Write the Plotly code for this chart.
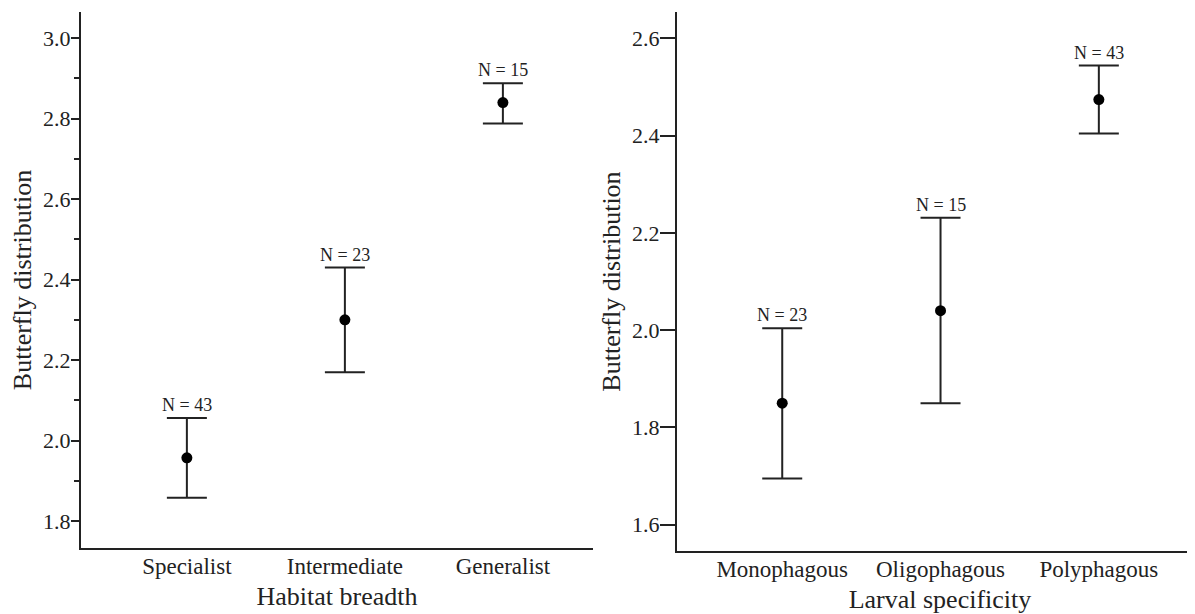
import plotly.graph_objects as go

# Left panel: habitat breadth
habitat_cats = ["Specialist", "Intermediate", "Generalist"]
habitat_mean = [1.957, 2.30, 2.84]
habitat_upper = [2.056, 2.43, 2.888]
habitat_lower = [1.858, 2.17, 2.788]
habitat_n = [43, 23, 15]

# Right panel: larval specificity
larval_cats = ["Monophagous", "Oligophagous", "Polyphagous"]
larval_mean = [1.850, 2.040, 2.474]
larval_upper = [2.004, 2.231, 2.544]
larval_lower = [1.695, 1.850, 2.404]
larval_n = [23, 15, 43]

left_ticks = [1.8, 2.0, 2.2, 2.4, 2.6, 2.8, 3.0]
right_ticks = [1.6, 1.8, 2.0, 2.2, 2.4, 2.6]

FONT = "Liberation Serif"
LINE = "#222222"

fig = go.Figure()


def add_panel(cats, mean, upper, lower, n, xa, ya):
    xs = list(range(len(cats)))
    plus = [u - m for u, m in zip(upper, mean)]
    minus = [m - l for m, l in zip(mean, lower)]
    fig.add_trace(go.Scatter(
        x=xs, y=mean, mode="markers", xaxis=xa, yaxis=ya,
        marker=dict(color="black", size=11),
        error_y=dict(type="data", array=plus, arrayminus=minus, symmetric=False,
                     color=LINE, thickness=2, width=20),
        showlegend=False, hoverinfo="skip"))
    for x, u, c in zip(xs, upper, n):
        fig.add_annotation(x=x, y=u, xref=xa, yref=ya, text=f"N = {c}",
                           showarrow=False, yanchor="bottom", yshift=1,
                           font=dict(family=FONT, size=18, color=LINE))


add_panel(habitat_cats, habitat_mean, habitat_upper, habitat_lower, habitat_n, "x", "y")
add_panel(larval_cats, larval_mean, larval_upper, larval_lower, larval_n, "x2", "y2")

axis_common = dict(showgrid=False, zeroline=False, showline=True, linecolor=LINE,
                   linewidth=2, automargin=False, ticklabelstandoff=-4)
TICKFONT = dict(family=FONT, size=22, color=LINE)
XTICKFONT = dict(family=FONT, size=23, color=LINE)
TITLEFONT = dict(family=FONT, size=26, color=LINE)

fig.update_layout(
    width=1195, height=614,
    margin=dict(l=0, r=0, t=0, b=0, autoexpand=False),
    font=dict(family=FONT, size=22, color=LINE),
    plot_bgcolor="white", paper_bgcolor="white",
    xaxis=dict(domain=[0.0611, 0.4895], range=[-0.67, 2.57],
               tickvals=[0, 1, 2], ticktext=habitat_cats, ticks="",
               tickfont=XTICKFONT,
               title=dict(text="Habitat breadth", standoff=9, font=TITLEFONT),
               anchor="y", **axis_common),
    yaxis=dict(domain=[0.1205, 0.9935], range=[1.733, 3.065],
               tickvals=left_ticks, ticktext=[f"{t:.1f}" for t in left_ticks],
               ticks="outside", ticklen=8, tickwidth=2, tickcolor=LINE,
               tickfont=TICKFONT,
               minor=dict(dtick=0.1, tick0=1.7, ticks="outside", ticklen=5,
                          tickwidth=2, tickcolor=LINE),
               title=dict(text="Butterfly distribution", standoff=8, font=TITLEFONT),
               anchor="x", **axis_common),
    xaxis2=dict(domain=[0.5598, 1.0], range=[-0.665, 2.658],
                tickvals=[0, 1, 2], ticktext=larval_cats, ticks="",
                tickfont=XTICKFONT,
                title=dict(text="Larval specificity", standoff=9, font=TITLEFONT),
                anchor="y2", **axis_common),
    yaxis2=dict(domain=[0.1156, 0.9935], range=[1.546, 2.654],
                tickvals=right_ticks, ticktext=[f"{t:.1f}" for t in right_ticks],
                ticks="outside", ticklen=15, tickwidth=2, tickcolor=LINE,
                tickfont=TICKFONT,
                title=dict(text="Butterfly distribution", standoff=4, font=TITLEFONT),
                anchor="x2", **axis_common),
)

fig.write_html("out.html")
